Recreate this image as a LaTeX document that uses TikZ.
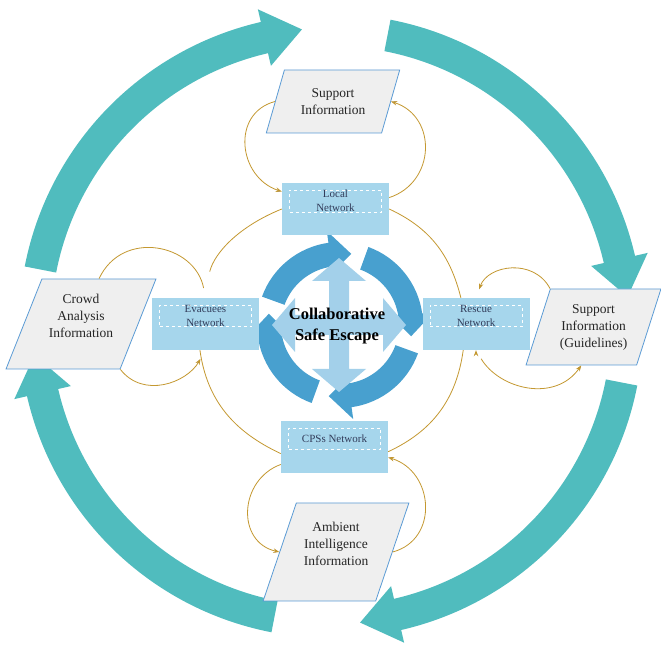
\documentclass[tikz,border=0pt]{standalone}
\usepackage{fontspec}
\setmainfont{Liberation Serif}
\usetikzlibrary{%
  positioning
 ,arrows.meta
 ,shapes.geometric
}
\definecolor{ringteal}{RGB}{80,188,190}
\definecolor{loopblue}{RGB}{72,160,207}
\definecolor{crossblue}{RGB}{163,208,234}
\definecolor{netfill}{RGB}{166,214,236}
\definecolor{nettext}{RGB}{50,60,90}
\definecolor{infofill}{RGB}{239,239,239}
\definecolor{infoedge}{RGB}{91,155,213}
\definecolor{gold}{RGB}{196,152,48}
\tikzstyle{net}=[rectangle,fill=netfill,minimum width=107pt,minimum height=52pt,inner sep=0pt]
\tikzstyle{tag}=[rectangle,draw=white,dashed,line width=0.8pt,minimum width=92pt,minimum height=21pt,inner sep=0pt,text=nettext,font=\fontsize{11}{14}\selectfont,align=center]
\tikzstyle{info}=[trapezium,trapezium stretches=true,draw=infoedge,fill=infofill,line width=0.8pt,inner sep=2pt,align=center,text=black!85,font=\fontsize{13.5}{17}\selectfont]
\tikzstyle{lnk}=[draw=gold,line width=0.8pt]
\tikzstyle{flow}=[lnk,-{Stealth[length=6pt,width=4.5pt]}]

\begin{document}
\begin{tikzpicture}[x=1pt,y=1pt]
  \useasboundingbox (0,0) rectangle (661,645);
  \clip (0,0) rectangle (661,645);
  \fill[white] (0,0) rectangle (661,645);
  % outer cycle
  \begin{scope}[shift={(331,319)}]
    \foreach \a in {0,90,180,270}
      \fill[ringteal] ({169-\a}:312) arc[start angle={169-\a},end angle={103-\a},radius=312]
        -- ({103-\a}:325) -- ({95.6-\a}:298) -- ({103-\a}:267) -- ({103-\a}:280)
        arc[start angle={103-\a},end angle={169-\a},radius=280] -- cycle;
  \end{scope}
  % inner cycle
  \begin{scope}[shift={(340,320)}]
    \foreach \a in {0,90,180,270}
      \fill[loopblue] ({160-\a}:83) arc[start angle={160-\a},end angle={98-\a},radius=83]
        -- ({98-\a}:95) -- ({81-\a}:72) -- ({98-\a}:53) -- ({98-\a}:59)
        arc[start angle={98-\a},end angle={160-\a},radius=59] -- cycle;
  \end{scope}
  \fill[crossblue,shift={(339,320)}] (10,44) -- (27,44) -- (0,67) -- (-27,44) -- (-10,44)
    -- (-10,10) -- (-44,10) -- (-44,27) -- (-67,0) -- (-44,-27) -- (-44,-10) -- (-10,-10)
    -- (-10,-44) -- (-27,-44) -- (0,-67) -- (27,-44) -- (10,-44) -- (10,-10) -- (44,-10)
    -- (44,-27) -- (67,0) -- (44,27) -- (44,10) -- (10,10) -- cycle;
  \node[font=\bfseries\fontsize{16.5}{21}\selectfont,align=center] (t_cse) at (337,319) {Collaborative\\Safe Escape};

  % networks
  \node[net] (n_loc) at (335.5,436) {};
  \node[tag,below=7pt of n_loc.north] (t_loc) {Local\\Network};
  \node[net] (n_evac) at (205.5,321) {};
  \node[tag,below=7pt of n_evac.north] (t_evac) {Evacuees\\Network};
  \node[net] (n_resc) at (476,321) {};
  \node[tag,below=7pt of n_resc.north] (t_resc) {Rescue\\Network};
  \node[net] (n_cps) at (334.5,198) {};
  \node[tag,below=7pt of n_cps.north] (t_cps) {CPSs Network};

  % information
  \node[info,trapezium left angle=67,trapezium right angle=113,minimum width=134pt,minimum height=63pt] (i_sup) at (333,543.5) {Support\\Information};
  \node[info,trapezium left angle=64,trapezium right angle=116,minimum width=150pt,minimum height=90pt] (i_crowd) at (81,321) {Crowd\\Analysis\\Information\\\mbox{}};
  \node[info,trapezium left angle=68,trapezium right angle=112,minimum width=135pt,minimum height=76pt] (i_guid) at (593.5,318) {Support\\Information\\(Guidelines)};
  \node[info,trapezium left angle=66,trapezium right angle=114,minimum width=146pt,minimum height=98pt] (i_amb) at (336,93) {Ambient\\Intelligence\\Information\\\mbox{}};

  \path[lnk]
    (n_loc.west) edge[out=202,in=76,shorten >=27pt] (n_evac.95)
    (n_loc.east) edge[out=-25,in=104] (n_resc.120)
    (n_resc.244) edge[out=-98,in=25] (n_cps.355)
    (n_cps.187) edge[out=155,in=-82] (n_evac.258)
    (i_crowd.top side) edge[out=65,in=101,looseness=1.3,shorten >=10pt] (n_evac.north);
  \path[flow]
    (i_sup.left side) edge[out=195,in=162,looseness=1.3] (n_loc.162)
    (n_loc.12) edge[out=18,in=-18,looseness=1.3] (i_sup.right side)
    (n_cps.198) edge[out=200,in=167,looseness=1.3] (i_amb.left side)
    (i_amb.right side) edge[out=15,in=-17,looseness=1.3] (n_cps.349)
    (i_crowd.bottom right corner) edge[out=-52,in=240,looseness=1.1,shorten >=10pt] (n_evac.south)
    (i_guid.top left corner) edge[out=118,in=70,looseness=1.2,shorten >=9pt] (n_resc.north)
    (n_resc.south) edge[out=-59,in=235,looseness=1.1,shorten <=10pt] (i_guid.bottom side);
\end{tikzpicture}
\end{document}
